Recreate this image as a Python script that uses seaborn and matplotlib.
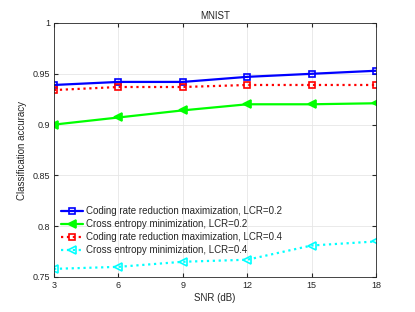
import matplotlib
matplotlib.use('Agg')
from matplotlib import pyplot as plt
from matplotlib.ticker import FuncFormatter
import seaborn as sns
import pandas as pd

snr = [3, 6, 9, 12, 15, 18]
crr_02 = [0.939, 0.942, 0.942, 0.947, 0.950, 0.953]
ce_02 = [0.900, 0.907, 0.914, 0.920, 0.920, 0.921]
crr_04 = [0.934, 0.937, 0.937, 0.939, 0.939, 0.939]
ce_04 = [0.758, 0.760, 0.765, 0.767, 0.781, 0.785]
labels = ['Coding rate reduction maximization, LCR=0.2',
          'Cross entropy minimization, LCR=0.2',
          'Coding rate reduction maximization, LCR=0.4',
          'Cross entropy minimization, LCR=0.4']

sns.set_style('whitegrid')
plt.rcParams['font.family'] = ['Liberation Sans', 'DejaVu Sans']

fig = plt.figure(figsize=(4.15, 3.12), dpi=100)
ax = fig.add_axes([54/415, 1-277/312, (376-54)/415, (277-23)/312])

styles = [
    (crr_02, '#0000ff', '-', 's', 'none', 4),
    (ce_02, '#00ff00', '-', '<', '#00ff00', 5.5),
    (crr_04, '#ff0000', ':', 's', 'none', 4),
    (ce_04, '#00ffff', ':', '<', 'none', 5.5),
]
for (vals, c, ls, m, mfc, ms), lab in zip(styles, labels):
    df = pd.DataFrame({'snr': snr, 'acc': vals})
    sns.lineplot(data=df, x='snr', y='acc', ax=ax, color=c, linestyle=ls,
                 linewidth=1.6, marker=m, markersize=ms, markerfacecolor=mfc,
                 markeredgecolor=c, markeredgewidth=1.2, label=lab)

ax.set_xlim(3, 18)
ax.set_ylim(0.75, 1)
ax.set_xticks(snr)
ax.set_yticks([0.75, 0.8, 0.85, 0.9, 0.95, 1])
ax.yaxis.set_major_formatter(FuncFormatter(lambda v, p: '%g' % v))
ax.tick_params(labelsize=6.5, colors='#262626', direction='in', length=3,
               top=True, right=True, bottom=True, left=True, pad=3)
for s in ax.spines.values():
    s.set_color('#262626')
    s.set_linewidth(0.6)
ax.grid(True, color='#e6e6e6', linewidth=0.6)
ax.set_xlabel('SNR (dB)', fontsize=7, color='#262626', labelpad=2)
ax.set_ylabel('Classification accuracy', fontsize=7, color='#262626', labelpad=4)
ax.set_title('MNIST', fontsize=7, color='#262626', pad=3)
leg = ax.legend(loc='lower left', bbox_to_anchor=(0.0, 0.06), frameon=False,
                fontsize=7, handlelength=2.3, handletextpad=0.3,
                labelspacing=0.3, borderaxespad=0.3)

fig.savefig('out.png', dpi=100)
